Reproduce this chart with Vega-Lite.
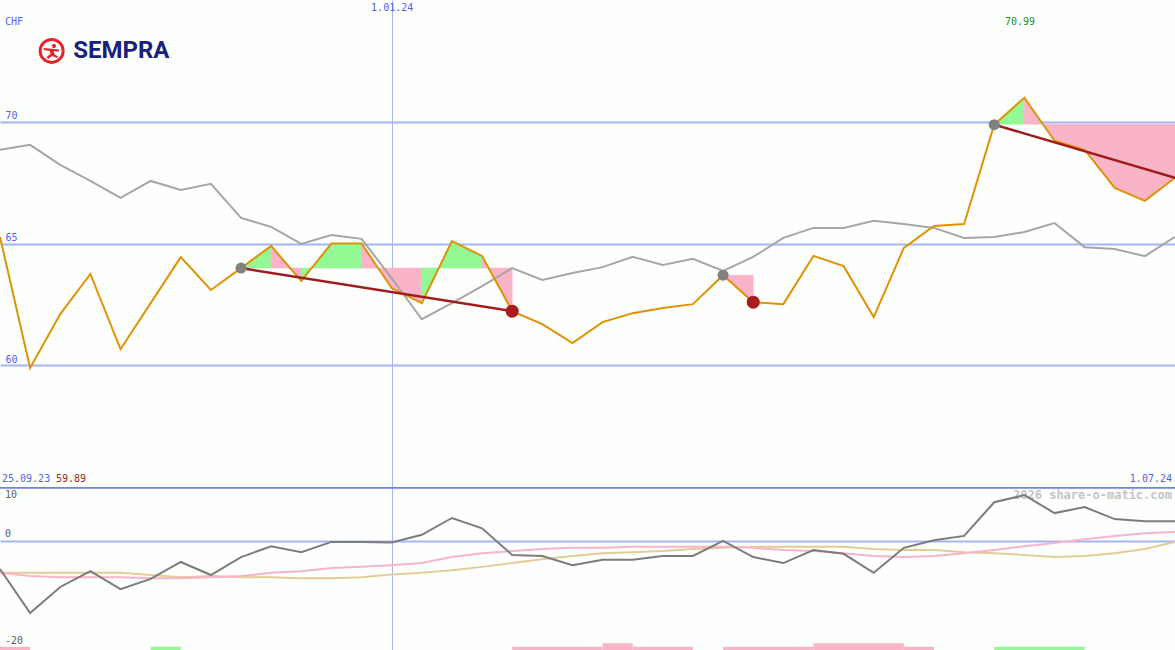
{
  "$schema": "https://vega.github.io/schema/vega-lite/v6.json",
  "padding": 0,
  "spacing": 0,
  "bounds": "flush",
  "background": "#fdfffd",
  "config": {"view": {"stroke": null}, "font": "DejaVu Sans Mono"},
  "datasets": {
    "price": [
      {"d": "2023-10-02", "p": 65.27, "g": 68.85},
      {"d": "2023-10-09", "p": 59.89, "g": 69.05},
      {"d": "2023-10-16", "p": 62.10, "g": 68.23},
      {"d": "2023-10-23", "p": 63.75, "g": 67.57},
      {"d": "2023-10-30", "p": 60.66, "g": 66.87},
      {"d": "2023-11-06", "p": 62.55, "g": 67.57},
      {"d": "2023-11-13", "p": 64.44, "g": 67.20},
      {"d": "2023-11-20", "p": 63.09, "g": 67.45},
      {"d": "2023-11-27", "p": 63.99, "g": 66.05},
      {"d": "2023-12-04", "p": 64.90, "g": 65.68},
      {"d": "2023-12-11", "p": 63.46, "g": 64.98},
      {"d": "2023-12-18", "p": 65.00, "g": 65.35},
      {"d": "2023-12-25", "p": 65.00, "g": 65.19},
      {"d": "2024-01-01", "p": 63.17, "g": 63.58},
      {"d": "2024-01-08", "p": 62.55, "g": 61.89},
      {"d": "2024-01-15", "p": 65.10, "g": 62.55},
      {"d": "2024-01-22", "p": 64.49, "g": 63.25},
      {"d": "2024-01-29", "p": 62.22, "g": 63.99},
      {"d": "2024-02-05", "p": 61.69, "g": 63.50},
      {"d": "2024-02-12", "p": 60.91, "g": 63.79},
      {"d": "2024-02-19", "p": 61.77, "g": 64.03},
      {"d": "2024-02-26", "p": 62.14, "g": 64.45},
      {"d": "2024-03-04", "p": 62.35, "g": 64.12},
      {"d": "2024-03-11", "p": 62.51, "g": 64.37},
      {"d": "2024-03-18", "p": 63.70, "g": 63.87},
      {"d": "2024-03-25", "p": 62.59, "g": 64.45},
      {"d": "2024-04-01", "p": 62.51, "g": 65.23},
      {"d": "2024-04-08", "p": 64.49, "g": 65.64},
      {"d": "2024-04-15", "p": 64.07, "g": 65.64},
      {"d": "2024-04-22", "p": 61.98, "g": 65.93},
      {"d": "2024-04-29", "p": 64.82, "g": 65.80},
      {"d": "2024-05-06", "p": 65.72, "g": 65.64},
      {"d": "2024-05-13", "p": 65.80, "g": 65.23},
      {"d": "2024-05-20", "p": 69.88, "g": 65.27},
      {"d": "2024-05-27", "p": 70.99, "g": 65.47},
      {"d": "2024-06-03", "p": 69.22, "g": 65.84},
      {"d": "2024-06-10", "p": 68.85, "g": 64.85},
      {"d": "2024-06-17", "p": 67.28, "g": 64.77},
      {"d": "2024-06-24", "p": 66.75, "g": 64.48},
      {"d": "2024-07-01", "p": 67.70, "g": 65.27}
    ],
    "osc": [
      {"d": "2023-10-02", "m": -5.1, "pk": -5.8, "tn": -5.8},
      {"d": "2023-10-09", "m": -13.2, "pk": -6.4, "tn": -5.8},
      {"d": "2023-10-16", "m": -8.4, "pk": -6.6, "tn": -5.8},
      {"d": "2023-10-23", "m": -5.5, "pk": -6.6, "tn": -5.8},
      {"d": "2023-10-30", "m": -8.8, "pk": -6.6, "tn": -5.8},
      {"d": "2023-11-06", "m": -6.9, "pk": -6.8, "tn": -6.2},
      {"d": "2023-11-13", "m": -3.8, "pk": -6.8, "tn": -6.6},
      {"d": "2023-11-20", "m": -6.2, "pk": -6.6, "tn": -6.4},
      {"d": "2023-11-27", "m": -2.9, "pk": -6.4, "tn": -6.6},
      {"d": "2023-12-04", "m": -0.9, "pk": -5.8, "tn": -6.6},
      {"d": "2023-12-11", "m": -2.0, "pk": -5.5, "tn": -6.8},
      {"d": "2023-12-18", "m": -0.1, "pk": -4.9, "tn": -6.8},
      {"d": "2023-12-25", "m": -0.1, "pk": -4.7, "tn": -6.6},
      {"d": "2024-01-01", "m": -0.2, "pk": -4.4, "tn": -6.1},
      {"d": "2024-01-08", "m": 1.2, "pk": -4.0, "tn": -5.8},
      {"d": "2024-01-15", "m": 4.3, "pk": -2.9, "tn": -5.3},
      {"d": "2024-01-22", "m": 2.4, "pk": -2.2, "tn": -4.7},
      {"d": "2024-01-29", "m": -2.5, "pk": -1.8, "tn": -4.0},
      {"d": "2024-02-05", "m": -2.7, "pk": -1.4, "tn": -3.3},
      {"d": "2024-02-12", "m": -4.4, "pk": -1.2, "tn": -2.7},
      {"d": "2024-02-19", "m": -3.4, "pk": -1.2, "tn": -2.2},
      {"d": "2024-02-26", "m": -3.4, "pk": -1.0, "tn": -2.0},
      {"d": "2024-03-04", "m": -2.7, "pk": -1.0, "tn": -1.8},
      {"d": "2024-03-11", "m": -2.7, "pk": -1.0, "tn": -1.4},
      {"d": "2024-03-18", "m": 0.1, "pk": -1.0, "tn": -1.2},
      {"d": "2024-03-25", "m": -2.9, "pk": -1.2, "tn": -1.0},
      {"d": "2024-04-01", "m": -4.0, "pk": -1.6, "tn": -1.0},
      {"d": "2024-04-08", "m": -1.6, "pk": -1.8, "tn": -1.0},
      {"d": "2024-04-15", "m": -2.3, "pk": -2.2, "tn": -1.0},
      {"d": "2024-04-22", "m": -5.8, "pk": -2.7, "tn": -1.4},
      {"d": "2024-04-29", "m": -1.2, "pk": -2.9, "tn": -1.6},
      {"d": "2024-05-06", "m": 0.2, "pk": -2.7, "tn": -1.6},
      {"d": "2024-05-13", "m": 1.0, "pk": -2.2, "tn": -2.0},
      {"d": "2024-05-20", "m": 7.2, "pk": -1.6, "tn": -2.2},
      {"d": "2024-05-27", "m": 8.5, "pk": -0.9, "tn": -2.5},
      {"d": "2024-06-03", "m": 5.2, "pk": -0.3, "tn": -2.9},
      {"d": "2024-06-10", "m": 6.3, "pk": 0.4, "tn": -2.7},
      {"d": "2024-06-17", "m": 4.1, "pk": 1.0, "tn": -2.2},
      {"d": "2024-06-24", "m": 3.7, "pk": 1.5, "tn": -1.4},
      {"d": "2024-07-01", "m": 3.7, "pk": 1.7, "tn": -0.1}
    ],
    "fills": [
      {"s": "a8", "d": "2023-11-27", "p": 63.99, "r": 63.99, "c": "up"},
      {"s": "a8", "d": "2023-12-04", "p": 64.90, "r": 63.99, "c": "up"},
      {"s": "a9", "d": "2023-12-04", "p": 64.90, "r": 63.99, "c": "down"},
      {"s": "a9", "d": "2023-12-11", "p": 63.46, "r": 63.99, "c": "down"},
      {"s": "a10", "d": "2023-12-11", "p": 63.46, "r": 63.99, "c": "up"},
      {"s": "a10", "d": "2023-12-18", "p": 65.00, "r": 63.99, "c": "up"},
      {"s": "a11", "d": "2023-12-18", "p": 65.00, "r": 63.99, "c": "up"},
      {"s": "a11", "d": "2023-12-25", "p": 65.00, "r": 63.99, "c": "up"},
      {"s": "a12", "d": "2023-12-25", "p": 65.00, "r": 63.99, "c": "down"},
      {"s": "a12", "d": "2024-01-01", "p": 63.17, "r": 63.99, "c": "down"},
      {"s": "a13", "d": "2024-01-01", "p": 63.17, "r": 63.99, "c": "down"},
      {"s": "a13", "d": "2024-01-08", "p": 62.55, "r": 63.99, "c": "down"},
      {"s": "a14", "d": "2024-01-08", "p": 62.55, "r": 63.99, "c": "up"},
      {"s": "a14", "d": "2024-01-15", "p": 65.10, "r": 63.99, "c": "up"},
      {"s": "a15", "d": "2024-01-15", "p": 65.10, "r": 63.99, "c": "up"},
      {"s": "a15", "d": "2024-01-22", "p": 64.49, "r": 63.99, "c": "up"},
      {"s": "a16", "d": "2024-01-22", "p": 64.49, "r": 63.99, "c": "down"},
      {"s": "a16", "d": "2024-01-29", "p": 62.22, "r": 63.99, "c": "down"},
      {"s": "b24", "d": "2024-03-18", "p": 63.70, "r": 63.70, "c": "down"},
      {"s": "b24", "d": "2024-03-25", "p": 62.59, "r": 63.70, "c": "down"},
      {"s": "c33", "d": "2024-05-20", "p": 69.88, "r": 69.9, "c": "up"},
      {"s": "c33", "d": "2024-05-27", "p": 70.99, "r": 69.9, "c": "up"},
      {"s": "c34", "d": "2024-05-27", "p": 70.99, "r": 69.9, "c": "down"},
      {"s": "c34", "d": "2024-06-03", "p": 69.22, "r": 69.9, "c": "down"},
      {"s": "c35", "d": "2024-06-03", "p": 69.22, "r": 69.9, "c": "down"},
      {"s": "c35", "d": "2024-06-10", "p": 68.85, "r": 69.9, "c": "down"},
      {"s": "c36", "d": "2024-06-10", "p": 68.85, "r": 69.9, "c": "down"},
      {"s": "c36", "d": "2024-06-17", "p": 67.28, "r": 69.9, "c": "down"},
      {"s": "c37", "d": "2024-06-17", "p": 67.28, "r": 69.9, "c": "down"},
      {"s": "c37", "d": "2024-06-24", "p": 66.75, "r": 69.9, "c": "down"},
      {"s": "c38", "d": "2024-06-24", "p": 66.75, "r": 69.9, "c": "down"},
      {"s": "c38", "d": "2024-07-01", "p": 67.70, "r": 69.9, "c": "down"}
    ],
    "trend": [
      {"t": "a", "d": "2023-11-27", "v": 63.99},
      {"t": "a", "d": "2024-01-29", "v": 62.22},
      {"t": "b", "d": "2024-05-20", "v": 69.88},
      {"t": "b", "d": "2024-07-01", "v": 67.70}
    ],
    "marks": [
      {"d": "2023-11-27", "v": 63.99, "k": "start"},
      {"d": "2024-01-29", "v": 62.22, "k": "end"},
      {"d": "2024-03-18", "v": 63.70, "k": "start"},
      {"d": "2024-03-25", "v": 62.59, "k": "end"},
      {"d": "2024-05-20", "v": 69.88, "k": "start"}
    ],
    "bars": [
      {"d": "2023-10-02", "e": "2023-10-09", "v": -19.4, "c": "down"},
      {"d": "2023-11-06", "e": "2023-11-13", "v": -19.4, "c": "up"},
      {"d": "2024-01-29", "e": "2024-02-19", "v": -19.4, "c": "down"},
      {"d": "2024-02-19", "e": "2024-02-26", "v": -18.75, "c": "down"},
      {"d": "2024-02-26", "e": "2024-03-11", "v": -19.4, "c": "down"},
      {"d": "2024-03-18", "e": "2024-04-08", "v": -19.4, "c": "down"},
      {"d": "2024-04-08", "e": "2024-04-29", "v": -18.75, "c": "down"},
      {"d": "2024-04-29", "e": "2024-05-06", "v": -19.4, "c": "down"},
      {"d": "2024-05-20", "e": "2024-06-10", "v": -19.4, "c": "up"}
    ]
  },
  "vconcat": [
    {
      "width": 1175,
      "height": 487,
      "layer": [
        {
          "data": {"name": "fills"},
          "mark": {"type": "area", "strokeWidth": 0.6, "clip": true},
          "encoding": {
            "x": {
              "field": "d", "type": "temporal",
              "scale": {"domain": ["2023-10-02", "2024-07-01"], "nice": false},
              "axis": {"orient": "top", "values": [{"year": 2024, "month": 1, "date": 1}], "format": "%-d.%m.%y", "grid": true, "gridColor": "#a4b4f6", "gridWidth": 1, "domain": false, "ticks": false, "tickSize": 0, "labelPadding": -12, "labelColor": "#5060f0", "labelFont": "DejaVu Sans Mono", "labelFontSize": 10, "labelFlush": false, "labelOverlap": false, "title": null}
            },
            "y": {"field": "p", "type": "quantitative", "stack": null,
              "scale": {"domain": [55, 75], "nice": false, "zero": false},
              "axis": {"orient": "left", "values": [60, 65, 70], "grid": true, "gridColor": "#a4b4f6", "gridWidth": 2, "domain": false, "ticks": false, "tickSize": 0, "labelAlign": "left", "labelBaseline": "bottom", "labelPadding": -5, "labelOffset": -1, "labelColor": "#5060f0", "labelFont": "DejaVu Sans Mono", "labelFontSize": 10, "title": null}},
            "y2": {"field": "r"},
            "color": {"field": "c", "type": "nominal", "scale": {"domain": ["up", "down"], "range": ["#94f894", "#fab4c8"]}, "legend": null},
            "stroke": {"field": "c", "type": "nominal", "scale": {"domain": ["up", "down"], "range": ["#94f894", "#fab4c8"]}, "legend": null},
            "detail": {"field": "s"}
          }
        },
        {
          "data": {"name": "price"},
          "mark": {"type": "line", "color": "#a6a6a6", "strokeWidth": 2, "clip": true},
          "encoding": {
            "x": {"field": "d", "type": "temporal"},
            "y": {"field": "g", "type": "quantitative"}
          }
        },
        {
          "data": {"name": "price"},
          "mark": {"type": "line", "color": "#df9206", "strokeWidth": 2, "clip": true},
          "encoding": {
            "x": {"field": "d", "type": "temporal"},
            "y": {"field": "p", "type": "quantitative"}
          }
        },
        {
          "data": {"name": "trend"},
          "mark": {"type": "line", "color": "#a01c1c", "strokeWidth": 2.5, "clip": true},
          "encoding": {
            "x": {"field": "d", "type": "temporal"},
            "y": {"field": "v", "type": "quantitative"},
            "detail": {"field": "t"}
          }
        },
        {
          "data": {"name": "marks"},
          "mark": {"type": "point", "filled": true, "opacity": 1, "shape": "circle"},
          "encoding": {
            "x": {"field": "d", "type": "temporal"},
            "y": {"field": "v", "type": "quantitative"},
            "color": {"condition": {"test": "datum.k == 'end'", "value": "#a81c1c"}, "value": "#808080"},
            "size": {"condition": {"test": "datum.k == 'end'", "value": 169}, "value": 121}
          }
        },
        {
          "data": {"values": [{"d": "2023-10-02", "v": 74.3}]},
          "mark": {"type": "text", "text": "CHF", "align": "left", "baseline": "top", "dx": 5, "color": "#5060f0", "font": "DejaVu Sans Mono", "fontSize": 10},
          "encoding": {
            "x": {"field": "d", "type": "temporal"},
            "y": {"field": "v", "type": "quantitative"}
          }
        },
        {
          "data": {"values": [{"d": "2024-05-26", "v": 74.3}]},
          "mark": {"type": "text", "text": "70.99", "align": "center", "baseline": "top", "color": "#209020", "font": "DejaVu Sans Mono", "fontSize": 10},
          "encoding": {
            "x": {"field": "d", "type": "temporal"},
            "y": {"field": "v", "type": "quantitative"}
          }
        },
        {
          "data": {"values": [{"d": "2023-10-02", "v": 55.12}]},
          "mark": {"type": "text", "text": "25.09.23", "align": "left", "baseline": "bottom", "dx": 2, "color": "#5060f0", "font": "DejaVu Sans Mono", "fontSize": 10},
          "encoding": {
            "x": {"field": "d", "type": "temporal"},
            "y": {"field": "v", "type": "quantitative"}
          }
        },
        {
          "data": {"values": [{"d": "2023-10-15", "v": 55.12}]},
          "mark": {"type": "text", "text": "59.89", "align": "left", "baseline": "bottom", "color": "#a01c1c", "font": "DejaVu Sans Mono", "fontSize": 10},
          "encoding": {
            "x": {"field": "d", "type": "temporal"},
            "y": {"field": "v", "type": "quantitative"}
          }
        },
        {
          "data": {"values": [{"d": "2024-07-01", "v": 55.12}]},
          "mark": {"type": "text", "text": "1.07.24", "align": "right", "baseline": "bottom", "dx": -3, "color": "#5060f0", "font": "DejaVu Sans Mono", "fontSize": 10},
          "encoding": {
            "x": {"field": "d", "type": "temporal"},
            "y": {"field": "v", "type": "quantitative"}
          }
        },
        {
          "data": {"values": [{"d": "2023-10-14", "v": 72.91}]},
          "mark": {"type": "point", "shape": "circle", "filled": false, "stroke": "#e3262e", "strokeWidth": 3, "size": 529, "opacity": 1},
          "encoding": {
            "x": {"field": "d", "type": "temporal"},
            "y": {"field": "v", "type": "quantitative"}
          }
        },
        {
          "data": {"values": [{"d": "2023-10-14", "v": 72.91}]},
          "mark": {"type": "point", "shape": "M0.02,-0.5 L0.12,-0.7 L0.34,-0.7 L0.46,-0.5 L0.34,-0.3 L0.12,-0.3 Z M-0.8,-0.3 L0.75,-0.15 L0.7,0.08 L0.2,0.02 L0.3,0.35 L0.65,0.55 L0.52,0.72 L0.05,0.52 L-0.35,0.8 L-0.5,0.62 L-0.12,0.3 L-0.18,0.0 L-0.8,-0.08 Z", "filled": true, "color": "#e3262e", "size": 400, "opacity": 1},
          "encoding": {
            "x": {"field": "d", "type": "temporal"},
            "y": {"field": "v", "type": "quantitative"}
          }
        },
        {
          "data": {"values": [{"d": "2023-10-19", "v": 72.91}]},
          "mark": {"type": "text", "text": "SEMPRA", "align": "left", "baseline": "middle", "color": "#18227a", "font": "Roboto", "fontWeight": "bold", "fontSize": 24},
          "encoding": {
            "x": {"field": "d", "type": "temporal"},
            "y": {"field": "v", "type": "quantitative"}
          }
        }
      ]
    },
    {
      "width": 1175,
      "height": 163,
      "layer": [
        {
          "data": {"name": "bars"},
          "mark": {"type": "rect", "clip": true},
          "encoding": {
            "x": {
              "field": "d", "type": "temporal",
              "scale": {"domain": ["2023-10-02", "2024-07-01"], "nice": false},
              "axis": {"orient": "bottom", "values": [{"year": 2024, "month": 1, "date": 1}], "grid": true, "gridColor": "#a4b4f6", "gridWidth": 1, "labels": false, "ticks": false, "tickSize": 0, "domain": false, "title": null}
            },
            "x2": {"field": "e"},
            "y": {"field": "v", "type": "quantitative",
              "scale": {"domain": [-20, 10], "nice": false, "zero": false},
              "axis": {"orient": "left", "values": [0], "grid": true, "gridColor": "#a4b4f6", "gridWidth": 2, "labels": false, "domain": false, "ticks": false, "tickSize": 0, "title": null}},
            "y2": {"datum": -20},
            "color": {"field": "c", "type": "nominal", "scale": {"domain": ["up", "down"], "range": ["#94f894", "#fab4c8"]}, "legend": null}
          }
        },
        {
          "data": {"values": [{"v": 9.84}]},
          "mark": {"type": "rule", "color": "#7080f0", "strokeWidth": 2, "clip": true},
          "encoding": {"y": {"field": "v", "type": "quantitative"}}
        },
        {
          "data": {"values": [{"d": "2023-10-02", "v": 9.45}]},
          "mark": {"type": "text", "text": "10", "align": "left", "baseline": "top", "dx": 5, "color": "#606060", "font": "DejaVu Sans Mono", "fontSize": 10},
          "encoding": {
            "x": {"field": "d", "type": "temporal"},
            "y": {"field": "v", "type": "quantitative"}
          }
        },
        {
          "data": {"values": [{"d": "2023-10-02", "v": 0.4}]},
          "mark": {"type": "text", "text": "0", "align": "left", "baseline": "bottom", "dx": 5, "color": "#606060", "font": "DejaVu Sans Mono", "fontSize": 10},
          "encoding": {
            "x": {"field": "d", "type": "temporal"},
            "y": {"field": "v", "type": "quantitative"}
          }
        },
        {
          "data": {"values": [{"d": "2023-10-02", "v": -19.3}]},
          "mark": {"type": "text", "text": "-20", "align": "left", "baseline": "bottom", "dx": 5, "color": "#606060", "font": "DejaVu Sans Mono", "fontSize": 10},
          "encoding": {
            "x": {"field": "d", "type": "temporal"},
            "y": {"field": "v", "type": "quantitative"}
          }
        },
        {
          "data": {"values": [{"d": "2024-07-01", "v": 9.4}]},
          "mark": {"type": "text", "text": "2026 share-o-matic.com", "align": "right", "baseline": "top", "dx": -3, "color": "#c4c4c4", "font": "DejaVu Sans Mono", "fontWeight": "bold", "fontSize": 12},
          "encoding": {
            "x": {"field": "d", "type": "temporal"},
            "y": {"field": "v", "type": "quantitative"}
          }
        },
        {
          "data": {"name": "osc"},
          "mark": {"type": "line", "color": "#e4cc98", "strokeWidth": 2, "clip": true},
          "encoding": {
            "x": {"field": "d", "type": "temporal"},
            "y": {"field": "tn", "type": "quantitative"}
          }
        },
        {
          "data": {"name": "osc"},
          "mark": {"type": "line", "color": "#f8b4c8", "strokeWidth": 2, "clip": true},
          "encoding": {
            "x": {"field": "d", "type": "temporal"},
            "y": {"field": "pk", "type": "quantitative"}
          }
        },
        {
          "data": {"name": "osc"},
          "mark": {"type": "line", "color": "#7c7c7c", "strokeWidth": 2, "clip": true},
          "encoding": {
            "x": {"field": "d", "type": "temporal"},
            "y": {"field": "m", "type": "quantitative"}
          }
        }
      ]
    }
  ]
}
